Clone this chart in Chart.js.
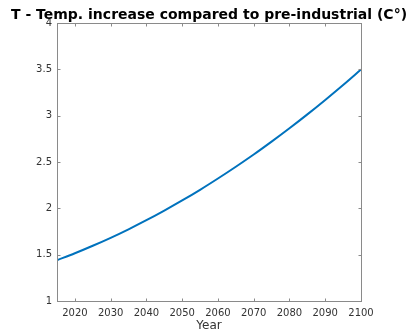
<!DOCTYPE html>
<html>
<head>
<meta charset="utf-8">
<script src="https://cdn.jsdelivr.net/npm/chart.js@4/dist/chart.umd.min.js"></script>
<style>
  html, body { margin: 0; padding: 0; background: #fff; }
  #wrap { width: 413px; height: 333px; }
</style>
</head>
<body>
<div id="wrap"><canvas id="c" width="413" height="333"></canvas></div>
<script>
// Temperature increase over pre-industrial levels, by year
const years = [2015, 2020, 2025, 2030, 2035, 2040, 2045, 2050, 2055, 2060, 2065, 2070, 2075, 2080, 2085, 2090, 2095, 2100];
const tempIncrease = [1.440, 1.515, 1.596, 1.682, 1.774, 1.872, 1.976, 2.085, 2.200, 2.322, 2.449, 2.581, 2.720, 2.864, 3.014, 3.170, 3.331, 3.498];
const xTicks = [2020, 2030, 2040, 2050, 2060, 2070, 2080, 2090, 2100];
const yTicks = [1, 1.5, 2, 2.5, 3, 3.5, 4];

const titleText = 'T - Temp. increase compared to pre-industrial (C°)';
const axisColor = '#8a8a8a';
const labelColor = '#333333';
const fontFamily = '"DejaVu Sans", sans-serif';

// Box around the axes with short inward tick marks on all four sides,
// plus the bold title centred over the plot area.
const frame = {
  id: 'frame',
  afterDraw(chart) {
    const { ctx, chartArea: a, scales } = chart;
    ctx.save();
    ctx.strokeStyle = axisColor;
    ctx.lineWidth = 1;
    const L = Math.round(a.left) + 0.5, R = Math.round(a.right) + 0.5;
    const T = Math.round(a.top) + 0.5, B = Math.round(a.bottom) + 0.5;
    ctx.strokeRect(L, T, R - L, B - T);
    const len = 3;
    ctx.beginPath();
    xTicks.forEach(v => {
      const x = Math.round(scales.x.getPixelForValue(v)) + 0.5;
      ctx.moveTo(x, B); ctx.lineTo(x, B - len);
      ctx.moveTo(x, T); ctx.lineTo(x, T + len);
    });
    yTicks.forEach(v => {
      const y = Math.round(scales.y.getPixelForValue(v)) + 0.5;
      ctx.moveTo(L, y); ctx.lineTo(L + len, y);
      ctx.moveTo(R, y); ctx.lineTo(R - len, y);
    });
    ctx.stroke();

    ctx.fillStyle = '#000';
    ctx.font = 'bold 14px ' + fontFamily;
    ctx.textAlign = 'center';
    ctx.textBaseline = 'alphabetic';
    ctx.fillText(titleText, (a.left + a.right) / 2, 19);
    ctx.restore();
  }
};

new Chart(document.getElementById('c'), {
  type: 'line',
  data: {
    labels: years,
    datasets: [{
      data: years.map((y, i) => ({ x: y, y: tempIncrease[i] })),
      borderColor: '#0072BD',
      borderWidth: 2,
      pointRadius: 0,
      cubicInterpolationMode: 'monotone',
      fill: false
    }]
  },
  options: {
    responsive: false,
    animation: false,
    layout: { padding: { left: 0, right: 52, top: 23, bottom: 0 } },
    plugins: { legend: { display: false }, title: { display: false }, tooltip: { enabled: false } },
    scales: {
      x: {
        type: 'linear',
        min: 2015,
        max: 2100,
        afterBuildTicks(scale) { scale.ticks = xTicks.map(v => ({ value: v })); },
        afterFit(scale) { scale.height = 32; },
        grid: { display: false, drawTicks: false },
        border: { display: false },
        ticks: {
          color: labelColor,
          font: { family: fontFamily, size: 10 },
          padding: 6,
          maxRotation: 0,
          autoSkip: false,
          callback: v => String(v)
        },
        title: {
          display: true,
          text: 'Year',
          color: labelColor,
          font: { family: fontFamily, size: 12 },
          padding: { top: 0, bottom: 0 }
        }
      },
      y: {
        type: 'linear',
        min: 1,
        max: 4,
        afterBuildTicks(scale) { scale.ticks = yTicks.map(v => ({ value: v })); },
        afterFit(scale) { scale.width = 57; },
        grid: { display: false, drawTicks: false },
        border: { display: false },
        ticks: {
          color: labelColor,
          font: { family: fontFamily, size: 10 },
          padding: 5,
          autoSkip: false,
          callback: v => String(v)
        }
      }
    }
  },
  plugins: [frame]
});
</script>
</body>
</html>
